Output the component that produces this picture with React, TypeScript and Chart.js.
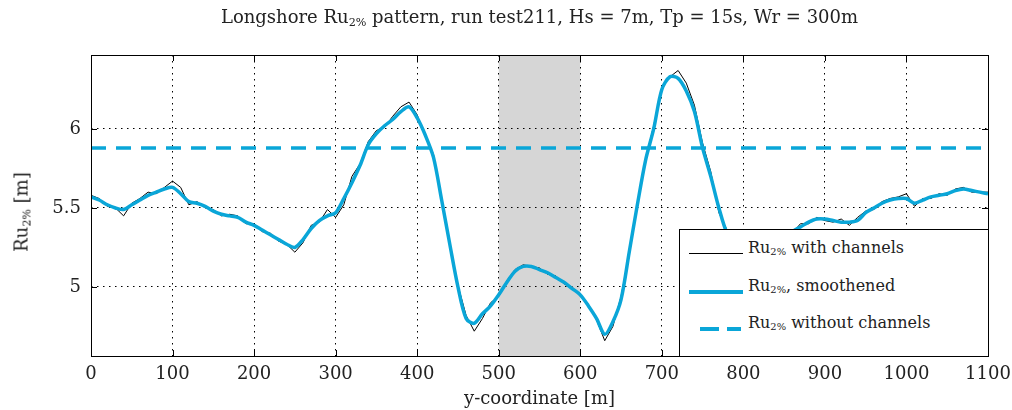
import React, { useEffect, useRef } from "react";
import { Chart, registerables } from "chart.js";

Chart.register(...registerables);

const positions = [
  0, 10, 20, 30, 40, 50, 60, 70, 80, 90,
  100, 110, 120, 130, 140, 150, 160, 170, 180, 190,
  200, 210, 220, 230, 240, 250, 260, 270, 280, 290,
  300, 310, 320, 330, 340, 350, 360, 370, 380, 390,
  400, 410, 420, 430, 440, 450, 460, 470, 480, 490,
  500, 510, 520, 530, 540, 550, 560, 570, 580, 590,
  600, 610, 620, 630, 640, 650, 660, 670, 680, 690,
  700, 710, 720, 730, 740, 750, 760, 770, 780, 790,
  800, 810, 820, 830, 840, 850, 860, 870, 880, 890,
  900, 910, 920, 930, 940, 950, 960, 970, 980, 990,
  1000, 1010, 1020, 1030, 1040, 1050, 1060, 1070, 1080, 1090,
  1100,
];

const rawValues = [
  5.58, 5.56, 5.51, 5.5, 5.45, 5.53, 5.56, 5.6, 5.59, 5.63,
  5.67, 5.63, 5.52, 5.54, 5.5, 5.49, 5.45, 5.46, 5.45, 5.4,
  5.4, 5.35, 5.34, 5.29, 5.27, 5.22, 5.28, 5.39, 5.41, 5.49,
  5.44, 5.52, 5.7, 5.78, 5.92, 5.99, 6.01, 6.08, 6.14, 6.17,
  6.09, 5.95, 5.84, 5.54, 5.26, 5.01, 4.82, 4.72, 4.8, 4.9,
  4.94, 5.04, 5.11, 5.14, 5.13, 5.12, 5.08, 5.07, 5.02, 5.0,
  4.94, 4.89, 4.79, 4.66, 4.75, 4.94, 5.21, 5.53, 5.81, 6.02,
  6.26, 6.33, 6.37, 6.29, 6.15, 5.91, 5.73, 5.47, 5.36, 5.27,
  5.26, 5.22, 5.25, 5.26, 5.27, 5.32, 5.34, 5.4, 5.4, 5.44,
  5.42, 5.41, 5.43, 5.39, 5.44, 5.48, 5.49, 5.54, 5.56, 5.57,
  5.59, 5.51, 5.56, 5.56, 5.59, 5.58, 5.62, 5.63, 5.6, 5.6,
  5.6,
];

const smoothValues = [
  5.57, 5.55, 5.52, 5.5, 5.49, 5.52, 5.55, 5.58, 5.6, 5.62,
  5.63, 5.59, 5.54, 5.53, 5.51, 5.48, 5.46, 5.45, 5.44, 5.41,
  5.39, 5.36, 5.33, 5.3, 5.27, 5.25, 5.3, 5.37, 5.42, 5.45,
  5.47, 5.56, 5.66, 5.77, 5.9, 5.97, 6.02, 6.06, 6.11, 6.14,
  6.07, 5.96, 5.82, 5.55, 5.27, 5.0, 4.8, 4.77, 4.83, 4.88,
  4.95, 5.03, 5.1, 5.13, 5.13, 5.11, 5.09, 5.06, 5.03, 4.99,
  4.95, 4.88, 4.8, 4.7, 4.78, 4.92, 5.22, 5.52, 5.8, 6.0,
  6.25, 6.33, 6.32, 6.24, 6.11, 5.88, 5.7, 5.5, 5.34, 5.28,
  5.25, 5.24, 5.24, 5.25, 5.28, 5.31, 5.35, 5.38, 5.41, 5.43,
  5.43, 5.42, 5.41, 5.41, 5.42, 5.47, 5.5, 5.53, 5.55, 5.56,
  5.56, 5.53, 5.55, 5.57, 5.58, 5.59, 5.61, 5.62, 5.61, 5.6,
  5.59,
];

const noChannelValue = 5.88;
const channelStart = 500;
const channelEnd = 600;
const xTicks = [0, 100, 200, 300, 400, 500, 600, 700, 800, 900, 1000, 1100];
const yTicks = [5, 5.5, 6];

const BLUE = "#0aa6d8";
const FONT = "'DejaVu Serif', 'Liberation Serif', serif";

const bandPlugin = {
  id: "band",
  beforeDraw(chart: any) {
    const { ctx, chartArea, scales } = chart;
    const x0 = scales.x.getPixelForValue(channelStart);
    const x1 = scales.x.getPixelForValue(channelEnd);
    ctx.save();
    ctx.fillStyle = "#d6d6d6";
    ctx.fillRect(x0, chartArea.top, x1 - x0, chartArea.bottom - chartArea.top);
    ctx.restore();
  },
  afterDraw(chart: any) {
    const { ctx, chartArea, scales } = chart;
    ctx.save();
    ctx.strokeStyle = "#000";
    ctx.lineWidth = 1;
    ctx.setLineDash([]);
    ctx.strokeRect(
      Math.round(chartArea.left) + 0.5,
      Math.round(chartArea.top) + 0.5,
      Math.round(chartArea.right - chartArea.left),
      Math.round(chartArea.bottom - chartArea.top)
    );
    ctx.beginPath();
    const t = 6;
    scales.x.ticks.forEach((tk: any) => {
      const px = Math.round(scales.x.getPixelForValue(tk.value)) + 0.5;
      ctx.moveTo(px, chartArea.bottom);
      ctx.lineTo(px, chartArea.bottom - t);
      ctx.moveTo(px, chartArea.top);
      ctx.lineTo(px, chartArea.top + t);
    });
    scales.y.ticks.forEach((tk: any) => {
      const py = Math.round(scales.y.getPixelForValue(tk.value)) + 0.5;
      ctx.moveTo(chartArea.left, py);
      ctx.lineTo(chartArea.left + t, py);
      ctx.moveTo(chartArea.right, py);
      ctx.lineTo(chartArea.right - t, py);
    });
    ctx.stroke();
    ctx.restore();
  },
};

function RuLabel({ size = 16 }: { size?: number }) {
  return (
    <span>
      Ru<sub style={{ fontSize: size * 0.62, verticalAlign: "-0.25em", lineHeight: 0 }}>2%</sub>
    </span>
  );
}

export default function App() {
  const canvasRef = useRef<HTMLCanvasElement | null>(null);

  useEffect(() => {
    if (!canvasRef.current) return;
    const chart = new Chart(canvasRef.current, {
      type: "line",
      data: {
        datasets: [
          {
            label: "raw",
            data: positions.map((x, i) => ({ x, y: rawValues[i] })),
            borderColor: "#000",
            borderWidth: 1,
            pointRadius: 0,
            tension: 0,
            order: 2,
          },
          {
            label: "smooth",
            data: positions.map((x, i) => ({ x, y: smoothValues[i] })),
            borderColor: BLUE,
            borderWidth: 3.5,
            pointRadius: 0,
            tension: 0.3,
            order: 1,
          },
          {
            label: "nochannel",
            data: [
              { x: positions[0], y: noChannelValue },
              { x: positions[positions.length - 1], y: noChannelValue },
            ],
            borderColor: BLUE,
            borderWidth: 3.5,
            borderDash: [15, 10],
            pointRadius: 0,
            order: 0,
          },
        ],
      },
      options: {
        animation: false,
        responsive: false,
        maintainAspectRatio: false,
        layout: { padding: { left: 0, top: 55, right: 24, bottom: 0 } },
        plugins: { legend: { display: false }, tooltip: { enabled: false }, title: { display: false } },
        scales: {
          x: {
            type: "linear",
            min: 0,
            max: 1100,
            afterBuildTicks: (s: any) => {
              s.ticks = xTicks.map((v) => ({ value: v }));
            },
            afterFit: (s: any) => {
              s.height = 54;
              s.paddingLeft = 0;
              s.paddingRight = 0;
            },
            ticks: {
              font: { family: FONT, size: 18 },
              color: "#222",
              padding: 8,
              maxRotation: 0,
              callback: (v: any) => String(v),
            },
            grid: { color: "#000", lineWidth: 1, drawTicks: false },
            border: { display: false, dash: [1.5, 4.5] },
            title: {
              display: true,
              text: "y-coordinate [m]",
              font: { family: FONT, size: 18 },
              color: "#222",
              padding: { top: 0, bottom: 0 },
            },
          },
          y: {
            type: "linear",
            min: 4.563,
            max: 6.468,
            afterBuildTicks: (s: any) => {
              s.ticks = yTicks.map((v) => ({ value: v }));
            },
            afterFit: (s: any) => {
              s.width = 91;
              s.paddingTop = 0;
              s.paddingBottom = 0;
            },
            ticks: {
              font: { family: FONT, size: 18 },
              color: "#222",
              padding: 10,
              callback: (v: any) => String(v),
            },
            grid: { color: "#000", lineWidth: 1, drawTicks: false },
            border: { display: false, dash: [1.5, 4.5] },
          },
        },
      },
      plugins: [bandPlugin],
    });
    return () => chart.destroy();
  }, []);

  const textStyle: React.CSSProperties = { fontFamily: FONT, fontSize: 16, color: "#222", whiteSpace: "nowrap" };
  const bigText: React.CSSProperties = { ...textStyle, fontSize: 18 };

  return (
    <div style={{ position: "absolute", left: 0, top: 0, width: 1012, height: 410, background: "#fff" }}>
      <canvas ref={canvasRef} width={1012} height={410} style={{ position: "absolute", left: 0, top: 0 }} />
      <div
        style={{
          ...bigText,
          position: "absolute",
          left: 91,
          width: 897,
          top: 6,
          textAlign: "center",
        }}
      >
        Longshore <RuLabel size={18} /> pattern, run test211, Hs = 7m, Tp = 15s, Wr = 300m
      </div>
      <div
        style={{
          ...bigText,
          position: "absolute",
          left: 21,
          top: 212,
          transform: "translate(-50%, -50%) rotate(-90deg)",
        }}
      >
        <RuLabel size={18} /> [m]
      </div>
      <div
        style={{
          position: "absolute",
          left: 679,
          top: 229,
          width: 310,
          height: 128,
          background: "#fff",
          border: "1px solid #000",
          boxSizing: "border-box",
        }}
      >
        {[
          { text: " with channels", kind: "raw" },
          { text: ", smoothened", kind: "smooth" },
          { text: " without channels", kind: "dash" },
        ].map((row, i) => (
          <div
            key={i}
            style={{ position: "absolute", left: 0, top: 6 + i * 37.5, height: 32, width: "100%" }}
          >
            {row.kind === "raw" && (
              <div style={{ position: "absolute", left: 9, top: 17, width: 54, height: 1, background: "#000" }} />
            )}
            {row.kind === "smooth" && (
              <div style={{ position: "absolute", left: 9, top: 16, width: 54, height: 4, background: BLUE }} />
            )}
            {row.kind === "dash" && (
              <>
                <div style={{ position: "absolute", left: 20, top: 16, width: 19, height: 4, background: BLUE }} />
                <div style={{ position: "absolute", left: 47, top: 16, width: 14, height: 4, background: BLUE }} />
              </>
            )}
            <div style={{ ...textStyle, position: "absolute", left: 68, top: 2 }}>
              <RuLabel />
              {row.text}
            </div>
          </div>
        ))}
      </div>
    </div>
  );
}
